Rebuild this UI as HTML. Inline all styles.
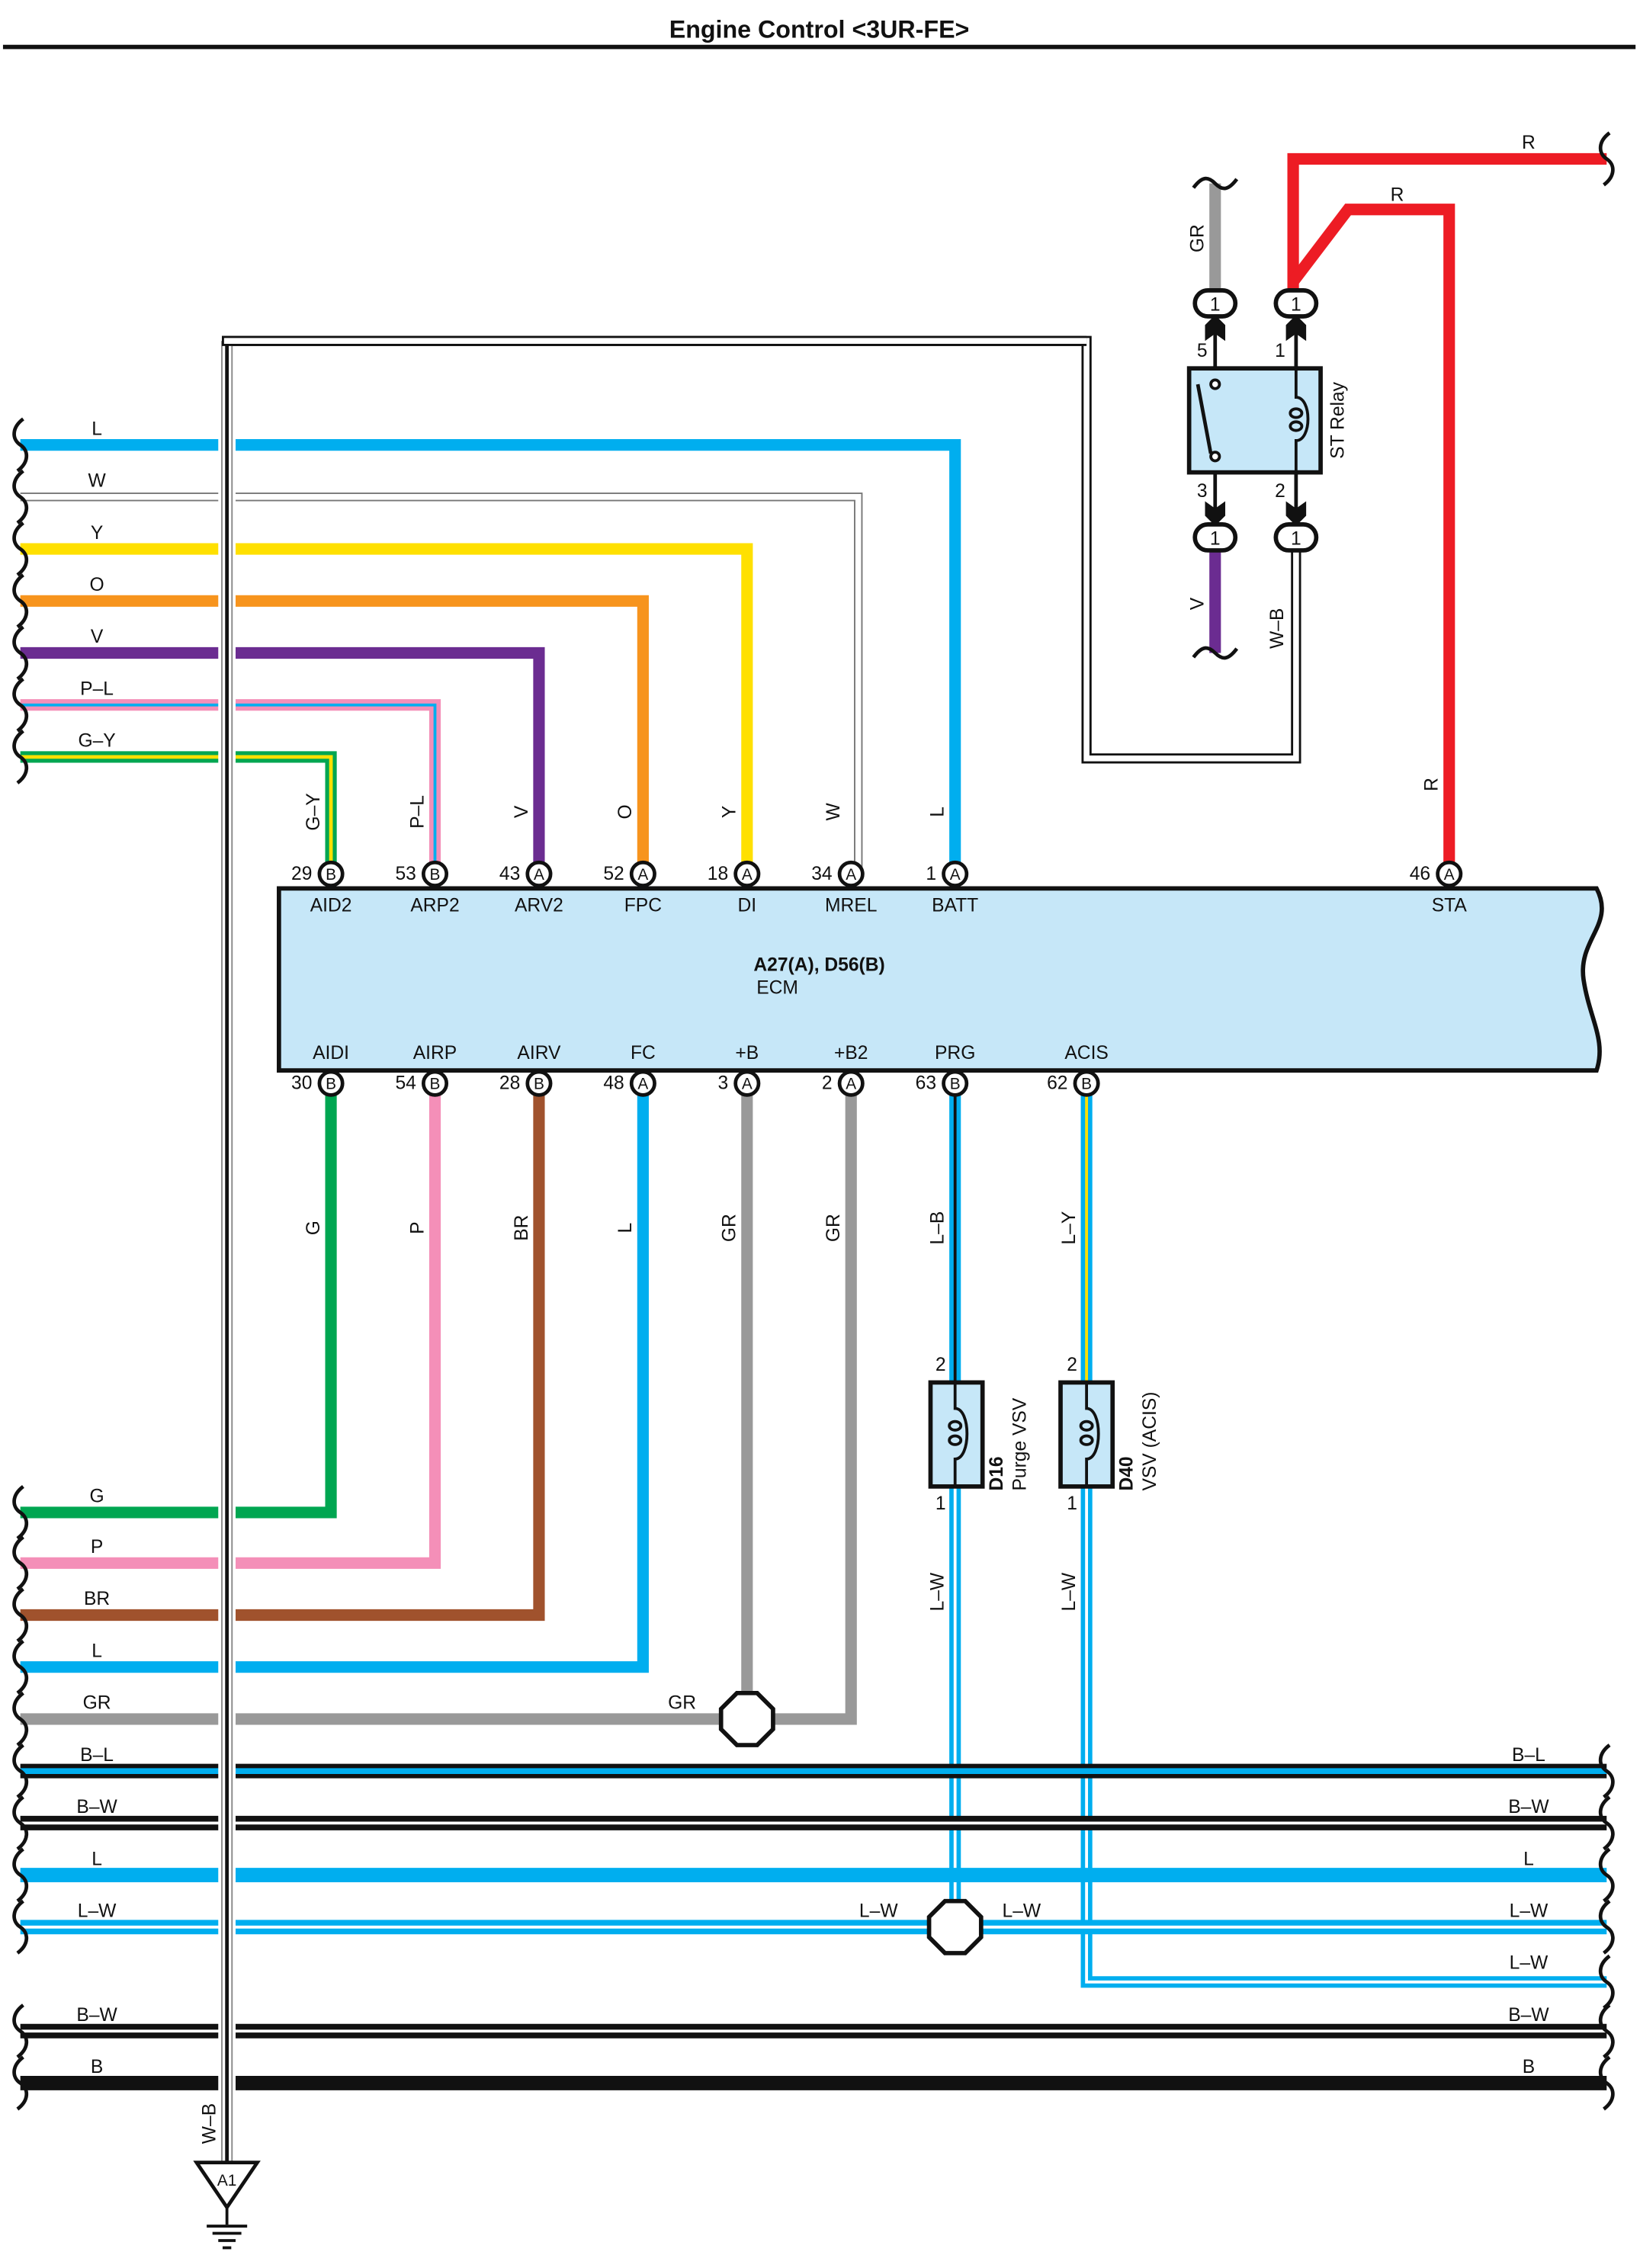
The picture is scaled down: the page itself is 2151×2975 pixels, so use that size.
<!DOCTYPE html>
<html><head><meta charset="utf-8"><style>
html,body{margin:0;padding:0;background:#fff}
svg{display:block}
text{font-family:"Liberation Sans",Arial,sans-serif;font-size:13px;fill:#111}
</style></head><body>
<svg width="2151" height="2975" viewBox="0 0 1135 1570" xmlns="http://www.w3.org/2000/svg">
<defs>
<path id="wv" d="M2,-18 C-6,-12 -6,-4 0,0 C6,4 6,12 -2,18" fill="none" stroke="#111" stroke-width="2.5"/>
</defs>
<text x="567" y="26" text-anchor="middle" font-weight="bold" style="font-size:17px">Engine Control &lt;3UR-FE&gt;</text>
<rect x="2" y="31" width="1130" height="3" fill="#111"/>

<path d="M193,615 H1105 C1118,640 1092,650 1096,678 C1100,705 1112,720 1105,741 H193 Z" fill="#c6e7f8" stroke="#111" stroke-width="3"/>
<text x="567" y="672" text-anchor="middle" font-weight="bold">A27(A), D56(B)</text>
<text x="538" y="688" text-anchor="middle">ECM</text>

<path d="M157,1497 V236 H752 V525 H897 V380" fill="none" stroke="#111" stroke-width="7"/>
<path d="M157,1497 V236 H752 V525 H897 V380" fill="none" stroke="#fff" stroke-width="4"/>

<g fill="none" stroke-linejoin="miter">
<path d="M14,308 H661 V605" stroke="#00aeef" stroke-width="8"/>
<path d="M14,344 H594 V605" stroke="#777" stroke-width="6"/>
<path d="M14,344 H594 V605" stroke="#fff" stroke-width="4"/>
<path d="M14,380 H517 V605" stroke="#ffe000" stroke-width="8"/>
<path d="M14,416 H445 V605" stroke="#f7941d" stroke-width="8"/>
<path d="M14,452 H373 V605" stroke="#6b2c91" stroke-width="8"/>
<path d="M14,488 H301 V605" stroke="#f48fb8" stroke-width="8"/>
<path d="M14,488 H301 V605" stroke="#00aeef" stroke-width="2"/>
<path d="M14,524 H229 V605" stroke="#00a651" stroke-width="8"/>
<path d="M14,524 H229 V605" stroke="#ffe000" stroke-width="2.5"/>
<path d="M229,750 V1047 H14" stroke="#00a651" stroke-width="8"/>
<path d="M301,750 V1082 H14" stroke="#f48fb8" stroke-width="8"/>
<path d="M373,750 V1118 H14" stroke="#a0522d" stroke-width="8"/>
<path d="M445,750 V1154 H14" stroke="#00aeef" stroke-width="8"/>
<path d="M517,750 V1190 H14" stroke="#999" stroke-width="8"/>
<path d="M589,750 V1190 H517" stroke="#999" stroke-width="8"/>
<path d="M661,750 V957" stroke="#00aeef" stroke-width="8"/>
<path d="M661,750 V957" stroke="#111" stroke-width="2"/>
<path d="M752,750 V957" stroke="#00aeef" stroke-width="8"/>
<path d="M752,750 V957" stroke="#ffe000" stroke-width="2"/>
<path d="M661,1029 V1334" stroke="#00aeef" stroke-width="8"/>
<path d="M661,1029 V1334" stroke="#fff" stroke-width="2"/>
<path d="M752,1029 V1372 H1112" stroke="#00aeef" stroke-width="8"/>
<path d="M752,1029 V1372 H1112" stroke="#fff" stroke-width="2"/>
<path d="M14,1226 H1112" stroke="#111" stroke-width="10"/>
<path d="M14,1226 H1112" stroke="#00aeef" stroke-width="4"/>
<path d="M14,1262 H1112" stroke="#111" stroke-width="10"/>
<path d="M14,1262 H1112" stroke="#fff" stroke-width="2"/>
<path d="M14,1298 H1112" stroke="#00aeef" stroke-width="10"/>
<path d="M14,1334 H1112" stroke="#00aeef" stroke-width="10"/>
<path d="M14,1334 H1112" stroke="#fff" stroke-width="2"/>
<path d="M14,1406 H1112" stroke="#111" stroke-width="10"/>
<path d="M14,1406 H1112" stroke="#fff" stroke-width="2"/>
<path d="M14,1442 H1112" stroke="#111" stroke-width="10"/>
<path d="M841,127 V205" stroke="#999" stroke-width="8"/>
<path d="M841,380 V452" stroke="#6b2c91" stroke-width="8"/>
<path d="M895,205 V110 H1112" stroke="#ed1c24" stroke-width="8"/>
<path d="M895,195 L933,145 H1003 V605" stroke="#ed1c24" stroke-width="8"/>
</g>
<rect x="151" y="295" width="12" height="240" fill="#fff"/>
<rect x="151" y="1035" width="12" height="420" fill="#fff"/>
<path d="M157,1497 V236" fill="none" stroke="#888" stroke-width="8"/>
<path d="M157,1497 V236" fill="none" stroke="#fff" stroke-width="6"/>
<path d="M157,1497 V236" fill="none" stroke="#111" stroke-width="2.5"/>
<path d="M153.5,236 H752" fill="none" stroke="#111" stroke-width="7"/>
<path d="M155,236 H752" fill="none" stroke="#fff" stroke-width="4"/>

<g>
<use href="#wv" x="14" y="308"/><use href="#wv" x="14" y="344"/><use href="#wv" x="14" y="380"/><use href="#wv" x="14" y="416"/><use href="#wv" x="14" y="452"/><use href="#wv" x="14" y="488"/><use href="#wv" x="14" y="524"/>
<use href="#wv" x="14" y="1047"/><use href="#wv" x="14" y="1082"/><use href="#wv" x="14" y="1118"/><use href="#wv" x="14" y="1154"/><use href="#wv" x="14" y="1190"/>
<use href="#wv" x="14" y="1226"/><use href="#wv" x="14" y="1262"/><use href="#wv" x="14" y="1298"/><use href="#wv" x="14" y="1334"/><use href="#wv" x="14" y="1406"/><use href="#wv" x="14" y="1442"/>
<use href="#wv" x="1112" y="1226"/><use href="#wv" x="1112" y="1262"/><use href="#wv" x="1112" y="1298"/><use href="#wv" x="1112" y="1334"/><use href="#wv" x="1112" y="1372"/><use href="#wv" x="1112" y="1406"/><use href="#wv" x="1112" y="1442"/><use href="#wv" x="1112" y="110"/>
</g>
<path d="M826,130 C832,122 836,122 841,127 C846,132 850,132 856,124" fill="none" stroke="#111" stroke-width="2.5"/>
<path d="M826,455 C832,447 836,447 841,452 C846,457 850,457 856,449" fill="none" stroke="#111" stroke-width="2.5"/>

<g text-anchor="middle">
<text x="67" y="301">L</text><text x="67" y="337">W</text><text x="67" y="373">Y</text><text x="67" y="409">O</text><text x="67" y="445">V</text><text x="67" y="481">P–L</text><text x="67" y="517">G–Y</text>
<text x="67" y="1040">G</text><text x="67" y="1075">P</text><text x="67" y="1111">BR</text><text x="67" y="1147">L</text><text x="67" y="1183">GR</text><text x="472" y="1183">GR</text>
<text x="67" y="1219">B–L</text><text x="67" y="1255">B–W</text><text x="67" y="1291">L</text><text x="67" y="1327">L–W</text><text x="67" y="1399">B–W</text><text x="67" y="1435">B</text>
<text x="1058" y="1219">B–L</text><text x="1058" y="1255">B–W</text><text x="1058" y="1291">L</text><text x="1058" y="1327">L–W</text><text x="1058" y="1363">L–W</text><text x="1058" y="1399">B–W</text><text x="1058" y="1435">B</text>
<text x="608" y="1327">L–W</text><text x="707" y="1327">L–W</text>
<text x="1058" y="103">R</text><text x="967" y="139">R</text>
</g>
<g text-anchor="middle">
<text transform="translate(221,562) rotate(-90)">G–Y</text>
<text transform="translate(293,562) rotate(-90)">P–L</text>
<text transform="translate(365,562) rotate(-90)">V</text>
<text transform="translate(437,562) rotate(-90)">O</text>
<text transform="translate(509,562) rotate(-90)">Y</text>
<text transform="translate(581,562) rotate(-90)">W</text>
<text transform="translate(653,562) rotate(-90)">L</text>
<text transform="translate(995,543) rotate(-90)">R</text>
<text transform="translate(221,850) rotate(-90)">G</text>
<text transform="translate(293,850) rotate(-90)">P</text>
<text transform="translate(365,850) rotate(-90)">BR</text>
<text transform="translate(437,850) rotate(-90)">L</text>
<text transform="translate(509,850) rotate(-90)">GR</text>
<text transform="translate(581,850) rotate(-90)">GR</text>
<text transform="translate(653,850) rotate(-90)">L–B</text>
<text transform="translate(744,850) rotate(-90)">L–Y</text>
<text transform="translate(653,1102) rotate(-90)">L–W</text>
<text transform="translate(744,1102) rotate(-90)">L–W</text>
<text transform="translate(833,165) rotate(-90)">GR</text>
<text transform="translate(833,418) rotate(-90)">V</text>
<text transform="translate(888,435) rotate(-90)">W–B</text>
<text transform="translate(149,1470) rotate(-90)">W–B</text>
<text transform="translate(930,291) rotate(-90)">ST Relay</text>
</g>

<g stroke="#111" stroke-width="2.5" fill="#fff">
<circle cx="229" cy="605" r="8"/><circle cx="301" cy="605" r="8"/><circle cx="373" cy="605" r="8"/><circle cx="445" cy="605" r="8"/><circle cx="517" cy="605" r="8"/><circle cx="589" cy="605" r="8"/><circle cx="661" cy="605" r="8"/><circle cx="1003" cy="605" r="8"/>
<circle cx="229" cy="750" r="8"/><circle cx="301" cy="750" r="8"/><circle cx="373" cy="750" r="8"/><circle cx="445" cy="750" r="8"/><circle cx="517" cy="750" r="8"/><circle cx="589" cy="750" r="8"/><circle cx="661" cy="750" r="8"/><circle cx="752" cy="750" r="8"/>
</g>
<g text-anchor="middle">
<text x="229" y="609" style="font-size:11px">B</text><text x="301" y="609" style="font-size:11px">B</text><text x="373" y="609" style="font-size:11px">A</text><text x="445" y="609" style="font-size:11px">A</text><text x="517" y="609" style="font-size:11px">A</text><text x="589" y="609" style="font-size:11px">A</text><text x="661" y="609" style="font-size:11px">A</text><text x="1003" y="609" style="font-size:11px">A</text>
<text x="229" y="754" style="font-size:11px">B</text><text x="301" y="754" style="font-size:11px">B</text><text x="373" y="754" style="font-size:11px">B</text><text x="445" y="754" style="font-size:11px">A</text><text x="517" y="754" style="font-size:11px">A</text><text x="589" y="754" style="font-size:11px">A</text><text x="661" y="754" style="font-size:11px">B</text><text x="752" y="754" style="font-size:11px">B</text>
</g>
<g text-anchor="end">
<text x="216" y="609">29</text><text x="288" y="609">53</text><text x="360" y="609">43</text><text x="432" y="609">52</text><text x="504" y="609">18</text><text x="576" y="609">34</text><text x="648" y="609">1</text><text x="990" y="609">46</text>
<text x="216" y="754">30</text><text x="288" y="754">54</text><text x="360" y="754">28</text><text x="432" y="754">48</text><text x="504" y="754">3</text><text x="576" y="754">2</text><text x="648" y="754">63</text><text x="739" y="754">62</text>
</g>
<g text-anchor="middle">
<text x="229" y="631">AID2</text><text x="301" y="631">ARP2</text><text x="373" y="631">ARV2</text><text x="445" y="631">FPC</text><text x="517" y="631">DI</text><text x="589" y="631">MREL</text><text x="661" y="631">BATT</text><text x="1003" y="631">STA</text>
<text x="229" y="733">AIDI</text><text x="301" y="733">AIRP</text><text x="373" y="733">AIRV</text><text x="445" y="733">FC</text><text x="517" y="733">+B</text><text x="589" y="733">+B2</text><text x="661" y="733">PRG</text><text x="752" y="733">ACIS</text>
</g>

<polygon points="510,1172 524,1172 535,1183 535,1197 524,1208 510,1208 499,1197 499,1183" fill="#fff" stroke="#111" stroke-width="3"/>
<polygon points="654,1316 668,1316 679,1327 679,1341 668,1352 654,1352 643,1341 643,1327" fill="#fff" stroke="#111" stroke-width="3"/>

<g stroke="#111" stroke-width="3" fill="#c6e7f8">
<rect x="644" y="957" width="36" height="72"/><rect x="734" y="957" width="36" height="72"/>
</g>
<g fill="none" stroke="#111" stroke-width="2">
<path d="M661,957 V975 C672,975 672,1010 661,1010 V1029"/>
<path d="M752,957 V975 C763,975 763,1010 752,1010 V1029"/>
<ellipse cx="661" cy="987" rx="4" ry="3"/><ellipse cx="661" cy="997" rx="4" ry="3"/>
<ellipse cx="752" cy="987" rx="4" ry="3"/><ellipse cx="752" cy="997" rx="4" ry="3"/>
</g>
<text x="651" y="949" text-anchor="middle">2</text><text x="742" y="949" text-anchor="middle">2</text>
<text x="651" y="1045" text-anchor="middle">1</text><text x="742" y="1045" text-anchor="middle">1</text>
<text transform="translate(694,1032) rotate(-90)" font-weight="bold">D16</text>
<text transform="translate(710,1032) rotate(-90)">Purge VSV</text>
<text transform="translate(784,1032) rotate(-90)" font-weight="bold">D40</text>
<text transform="translate(800,1032) rotate(-90)">VSV (ACIS)</text>

<g fill="none" stroke="#111" stroke-width="2.5">
<path d="M841,215 V255"/><path d="M897,215 V255"/><path d="M841,327 V365"/><path d="M897,327 V365"/>
</g>
<g fill="#111">
<path d="M834,225 L841,218 L848,225 L848,236 L841,231 L834,236 Z"/>
<path d="M890,225 L897,218 L904,225 L904,236 L897,231 L890,236 Z"/>
<path d="M834,347 L841,352 L848,347 L848,357 L841,364 L834,357 Z"/>
<path d="M890,347 L897,352 L904,347 L904,357 L897,364 L890,357 Z"/>
</g>
<rect x="823" y="255" width="91" height="72" fill="#c6e7f8" stroke="#111" stroke-width="3"/>
<g fill="none" stroke="#111" stroke-width="2">
<circle cx="841" cy="266" r="3" fill="#fff"/><circle cx="841" cy="316" r="3" fill="#fff"/>
<path d="M829,266 L838,314" stroke-width="2.5"/>
<path d="M897,255 V275 C908,275 908,305 897,305 V327"/>
<ellipse cx="897" cy="286" rx="4" ry="3"/><ellipse cx="897" cy="295" rx="4" ry="3"/>
</g>
<g fill="#fff" stroke="#111" stroke-width="3">
<rect x="827" y="201" width="28" height="18" rx="9"/><rect x="883" y="201" width="28" height="18" rx="9"/>
<rect x="827" y="363" width="28" height="18" rx="9"/><rect x="883" y="363" width="28" height="18" rx="9"/>
</g>
<g text-anchor="middle"><text x="841" y="215">1</text><text x="897" y="215">1</text><text x="841" y="377">1</text><text x="897" y="377">1</text>
<text x="832" y="247">5</text><text x="886" y="247">1</text><text x="832" y="344">3</text><text x="886" y="344">2</text></g>

<polygon points="136,1497 178,1497 157,1528" fill="#fff" stroke="#111" stroke-width="2.5"/>
<text x="157" y="1513" text-anchor="middle" style="font-size:11px">A1</text>
<g stroke="#111" stroke-width="2"><path d="M157,1528 V1540"/><path d="M143,1541 H171"/><path d="M147,1546 H167"/><path d="M151,1551 H163"/><path d="M154,1556 H160"/></g>
</svg>
</body></html>
